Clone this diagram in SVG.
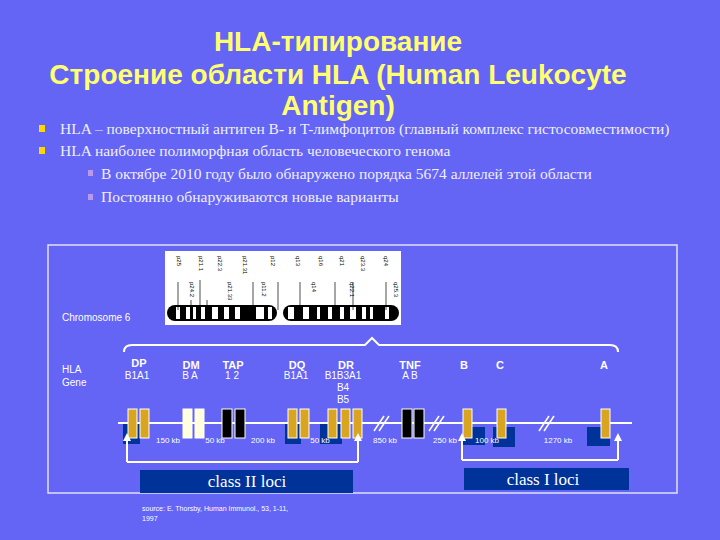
<svg xmlns="http://www.w3.org/2000/svg" width="720" height="540" viewBox="0 0 720 540">
<style>
.t{font-family:"Liberation Sans",Arial,sans-serif;font-weight:bold;fill:#ffff70;font-size:28px;text-anchor:middle}
.b{font-family:"Liberation Serif","Times New Roman",serif;fill:#f0f0ff;font-size:15.5px}
.s{font-family:"Liberation Sans",Arial,sans-serif;fill:#fff;font-size:10px}
.g{font-family:"Liberation Sans",Arial,sans-serif;fill:#fff;font-size:10px;text-anchor:middle}
.gb{font-family:"Liberation Sans",Arial,sans-serif;fill:#fff;font-size:11px;font-weight:bold;text-anchor:middle}
.kb{font-family:"Liberation Sans",Arial,sans-serif;fill:#fff;font-size:8px;text-anchor:middle}
.au{fill:#d9a520;stroke:#fff;stroke-width:1}
.wh{fill:#ffffe0;stroke:#fff;stroke-width:1}
.bk{fill:#000;stroke:#fff;stroke-width:1}
.db{fill:#003399}
.w{stroke:#fff;fill:none;stroke-width:2}
.cl{font-family:"Liberation Serif","Times New Roman",serif;fill:#fff;font-size:17px;text-anchor:middle}
.cl2{font-family:"Liberation Sans",Arial,sans-serif;fill:#000;font-size:6px}
</style>
<defs><marker id="ar" markerWidth="4" markerHeight="4" refX="2" refY="2" orient="auto"><path d="M0,0L4,2L0,4z" fill="#fff"/></marker></defs>
<rect width="720" height="540" fill="#6464f5"/>
<g id="title">
<text class="t" x="338" y="51">HLA-типирование</text>
<text class="t" x="338" y="84">Строение области HLA (Human Leukocyte</text>
<text class="t" x="338" y="115">Antigen)</text>
</g>
<g id="bullets">
<rect x="39" y="125" width="6" height="7" fill="#ffd700"/>
<rect x="39" y="147" width="6" height="7" fill="#ffd700"/>
<rect x="88" y="170" width="5" height="6" fill="#b89ae6"/>
<rect x="88" y="194" width="5" height="6" fill="#b89ae6"/>
<text class="b" x="60" y="134">HLA – поверхностный антиген B- и T-лимфоцитов (главный комплекс гистосовместимости)</text>
<text class="b" x="60" y="156">HLA наиболее полиморфная область человеческого генома</text>
<text class="b" x="101" y="179">В октябре 2010 году было обнаружено порядка 5674 аллелей этой области</text>
<text class="b" x="101" y="202">Постоянно обнаруживаются новые варианты</text>
</g>
<rect x="48" y="245" width="629" height="248" fill="none" stroke="#e0e0ff" stroke-width="1.5"/>
<g id="chromosome">
<rect x="165" y="251" width="236" height="74" fill="#fff"/>
<rect x="167" y="305" width="110" height="16" rx="8" fill="#000"/>
<rect x="283" y="305" width="116" height="16" rx="8" fill="#000"/>
<g fill="#fff">
<rect x="176" y="307" width="4" height="12"/><rect x="186" y="307" width="4" height="12"/><rect x="193" y="307" width="3" height="12"/><rect x="201" y="307" width="4" height="12"/><rect x="212" y="307" width="6" height="12"/><rect x="224" y="307" width="5" height="12"/><rect x="235" y="307" width="5" height="12"/><rect x="256" y="307" width="8" height="12"/><rect x="268" y="307" width="4" height="12"/><rect x="288" y="307" width="6" height="12"/><rect x="303" y="307" width="6" height="12"/><rect x="317" y="307" width="3" height="12"/><rect x="328" y="307" width="4" height="12"/><rect x="340" y="307" width="4" height="12"/><rect x="350" y="307" width="6" height="12"/><rect x="362" y="307" width="4" height="12"/><rect x="370" y="307" width="3" height="12"/><rect x="385" y="307" width="4" height="12"/>
</g>
<g stroke="#000" stroke-width="0.7">
<line x1="178" y1="282" x2="178" y2="310"/><line x1="191" y1="300" x2="191" y2="310"/><line x1="200" y1="280" x2="200" y2="310"/><line x1="207" y1="300" x2="207" y2="310"/><line x1="253" y1="282" x2="253" y2="310"/><line x1="278" y1="282" x2="278" y2="310"/><line x1="300" y1="282" x2="300" y2="310"/><line x1="335" y1="282" x2="335" y2="310"/><line x1="353" y1="282" x2="353" y2="310"/><line x1="386" y1="282" x2="386" y2="310"/>
</g>
<g class="cl2">
<text transform="translate(177,256) rotate(90)">p25</text><text transform="translate(199,256) rotate(90)">p21.1</text><text transform="translate(218,256) rotate(90)">p22.3</text><text transform="translate(243,256) rotate(90)">p21.31</text><text transform="translate(271,256) rotate(90)">p12</text><text transform="translate(296,256) rotate(90)">q13</text><text transform="translate(319,256) rotate(90)">q16</text><text transform="translate(340,256) rotate(90)">q21</text><text transform="translate(361,256) rotate(90)">q23.3</text><text transform="translate(384,256) rotate(90)">q24</text>
<text transform="translate(190,282) rotate(90)">p24.2</text><text transform="translate(228,282) rotate(90)">p21.33</text><text transform="translate(262,282) rotate(90)">p11.2</text><text transform="translate(312,282) rotate(90)">q14</text><text transform="translate(350,282) rotate(90)">q22.1</text><text transform="translate(394,282) rotate(90)">q25.3</text>
</g>
</g>
<text class="s" x="62" y="321">Chromosome 6</text>
<text class="s" x="62" y="373">HLA</text>
<text class="s" x="62" y="386">Gene</text>
<path class="w" d="M124,352 Q124,345 132,345 L365,345 L372,338 L379,345 L610,345 Q618,345 618,352"/>
<g id="genes">
<text class="gb" x="139" y="367">DP</text><text class="g" x="137" y="379">B1A1</text>
<text class="gb" x="191" y="369">DM</text><text class="g" x="190" y="379">B  A</text>
<text class="gb" x="233" y="369">TAP</text><text class="g" x="232" y="379">1  2</text>
<text class="gb" x="297" y="369">DQ</text><text class="g" x="296" y="379">B1A1</text>
<text class="gb" x="346" y="369">DR</text><text class="g" x="343" y="379">B1B3A1</text><text class="g" x="343" y="391">B4</text><text class="g" x="343" y="403">B5</text>
<text class="gb" x="410" y="369">TNF</text><text class="g" x="410" y="379">A  B</text>
<text class="gb" x="464" y="369">B</text><text class="gb" x="500" y="369">C</text><text class="gb" x="604" y="369">A</text>
</g>
<g id="map">
<rect class="db" x="123" y="424" width="17" height="20"/>
<rect class="db" x="285" y="424" width="16" height="20"/>
<rect class="db" x="320" y="424" width="22" height="20"/>
<rect class="db" x="463" y="427" width="22" height="18"/>
<rect class="db" x="493" y="427" width="22" height="20"/>
<rect class="db" x="587" y="427" width="23" height="19"/>
<line x1="118" y1="423" x2="632" y2="423" stroke="#fff" stroke-width="2"/>
<rect class="au" x="128" y="409" width="9" height="29"/><rect class="au" x="140" y="409" width="9" height="29"/>
<rect class="wh" x="183" y="409" width="9" height="29"/><rect class="wh" x="195" y="409" width="9" height="29"/>
<rect class="bk" x="222" y="409" width="10" height="29"/><rect class="bk" x="235" y="409" width="10" height="29"/>
<rect class="au" x="288" y="409" width="9" height="29"/><rect class="au" x="300" y="409" width="9" height="29"/>
<rect class="au" x="328" y="409" width="9" height="29"/><rect class="au" x="341" y="409" width="9" height="29"/><rect class="au" x="353" y="409" width="9" height="29"/>
<rect class="bk" x="402" y="409" width="10" height="29"/><rect class="bk" x="414" y="409" width="10" height="29"/>
<rect class="au" x="463" y="409" width="9" height="29"/><rect class="au" x="497" y="409" width="9" height="29"/><rect class="au" x="601" y="409" width="9" height="29"/>
<g stroke="#fff" stroke-width="1.5"><line x1="374" y1="431" x2="384" y2="416"/><line x1="379" y1="431" x2="389" y2="416"/><line x1="429" y1="431" x2="439" y2="416"/><line x1="434" y1="431" x2="444" y2="416"/><line x1="539" y1="431" x2="549" y2="416"/><line x1="544" y1="431" x2="554" y2="416"/></g>
<text class="kb" x="168" y="443">150 kb</text><text class="kb" x="215" y="443">50 kb</text><text class="kb" x="263" y="443">200 kb</text><text class="kb" x="320" y="443">50 kb</text><text class="kb" x="385" y="443">850 kb</text><text class="kb" x="445" y="443">250 kb</text><text class="kb" x="487" y="443">100 kb</text><text class="kb" x="558" y="443">1270 kb</text>
</g>
<g id="connectors">
<path class="w" d="M127,462 L358,462"/>
<path class="w" d="M127,462 L127,437" marker-end="url(#ar)"/>
<path class="w" d="M358,462 L358,437" marker-end="url(#ar)"/>
<path class="w" d="M462,460 L618,460"/>
<path class="w" d="M462,460 L462,437" marker-end="url(#ar)"/>
<path class="w" d="M618,460 L618,437" marker-end="url(#ar)"/>
</g>
<g id="class2"><rect class="db" x="140" y="470" width="213" height="23"/><text class="cl" x="247" y="487">class II loci</text></g>
<g id="class1"><rect class="db" x="464" y="468" width="165" height="22"/><text class="cl" x="543" y="485">class I loci</text></g>
<text class="s" x="142" y="511" style="font-size:7px">source: E. Thorsby, Human Immunol., 53, 1-11,</text>
<text class="s" x="142" y="521" style="font-size:7px">1997</text>
</svg>
